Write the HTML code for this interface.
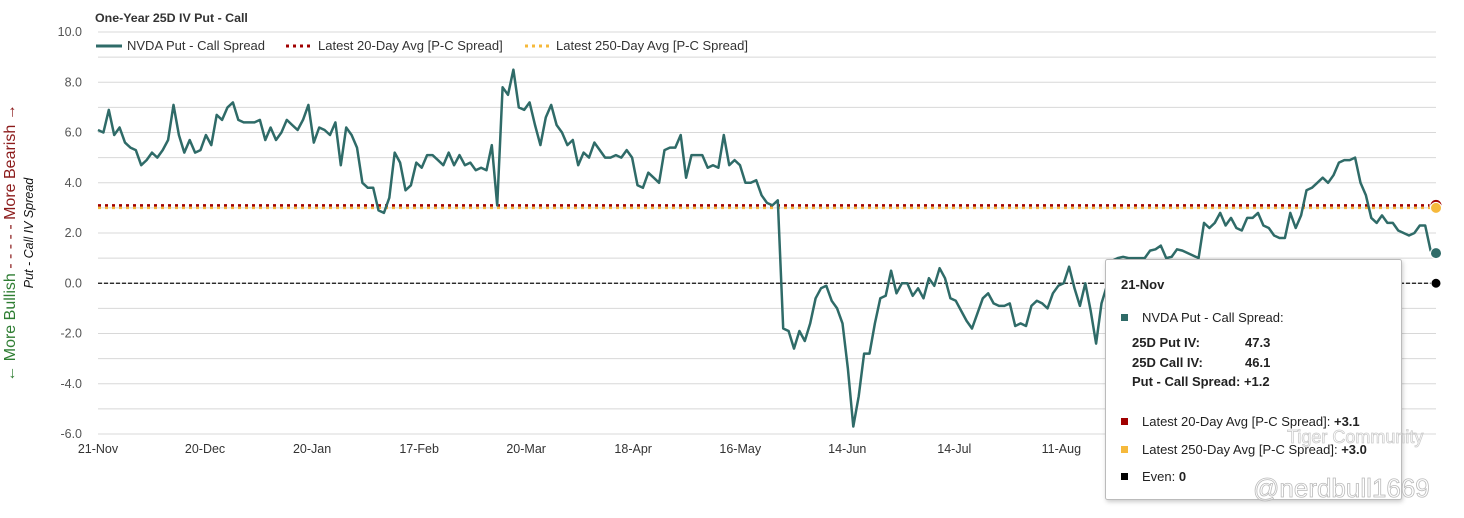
<!DOCTYPE html>
<html><head><meta charset="utf-8">
<style>
body{margin:0;background:#fff;}
svg{display:block;font-family:"Liberation Sans",Arial,sans-serif;}
</style></head>
<body>
<svg id="chart" width="1464" height="518" viewBox="0 0 1464 518">
<text x="95" y="22" font-size="12.4" font-weight="bold" fill="#333">One-Year 25D IV Put - Call</text>
<g>
<g><line x1="96" y1="46" x2="122" y2="46" stroke="#2f6b68" stroke-width="3"/><text x="127" y="50" font-size="13" fill="#333">NVDA Put - Call Spread</text></g>
<g><line x1="286" y1="46" x2="312" y2="46" stroke="#a00000" stroke-width="3" stroke-dasharray="3,4"/><text x="318" y="50" font-size="13" fill="#333">Latest 20-Day Avg [P-C Spread]</text></g>
<g><line x1="525" y1="46" x2="551" y2="46" stroke="#f6b93b" stroke-width="3" stroke-dasharray="3,4"/><text x="556" y="50" font-size="13" fill="#333">Latest 250-Day Avg [P-C Spread]</text></g>
</g>
<g id="grid"></g>
<g id="yaxis"></g>
<g id="xaxis"></g>
<text transform="translate(15,243) rotate(-90)" text-anchor="middle" font-size="16"><tspan fill="#2e7d32">← More Bullish</tspan><tspan fill="#8b1a1a"> - - - - - More Bearish →</tspan></text>
<text transform="translate(33,233) rotate(-90)" text-anchor="middle" font-size="12.5" font-style="italic" fill="#111">Put - Call IV Spread</text>
<g id="series"></g>
<g>
<rect x="1105.5" y="259.5" width="296" height="240" fill="#fff" stroke="#bbb" rx="2" filter="drop-shadow(1px 2px 2px rgba(0,0,0,0.2))"/>
<text x="1121" y="289" font-size="13" font-weight="bold" fill="#222">21-Nov</text>
<rect x="1121" y="314" width="7" height="7" fill="#2f6b68"/><text x="1142" y="322" font-size="13" fill="#222">NVDA Put - Call Spread:</text>
<text x="1132" y="347" font-size="13" font-weight="bold" fill="#222">25D Put IV:</text><text x="1245" y="347" font-size="13" font-weight="bold" fill="#222">47.3</text>
<text x="1132" y="367" font-size="13" font-weight="bold" fill="#222">25D Call IV:</text><text x="1245" y="367" font-size="13" font-weight="bold" fill="#222">46.1</text>
<text x="1132" y="386" font-size="13" font-weight="bold" fill="#222">Put - Call Spread: +1.2</text>
<rect x="1121" y="418" width="7" height="7" fill="#a00000"/><text x="1142" y="426" font-size="13" fill="#222">Latest 20-Day Avg [P-C Spread]: <tspan font-weight="bold">+3.1</tspan></text>
<rect x="1121" y="446" width="7" height="7" fill="#f6b93b"/><text x="1142" y="454" font-size="13" fill="#222">Latest 250-Day Avg [P-C Spread]: <tspan font-weight="bold">+3.0</tspan></text>
<rect x="1121" y="473" width="7" height="7" fill="#000"/><text x="1142" y="481" font-size="13" fill="#222">Even: <tspan font-weight="bold">0</tspan></text>
</g>
<text x="1253" y="497" font-size="26" fill="rgba(255,255,255,0.5)" stroke="#bbb" stroke-width="0.8">@nerdbull1669</text>
<text x="1287" y="443" font-size="18" fill="none" stroke="#ccc" stroke-width="0.8">Tiger Community</text>
</svg>
<script>
const yTicks = [-6, -4, -2, 0, 2, 4, 6, 8, 10];
const xTickLabels = ["21-Nov","20-Dec","20-Jan","17-Feb","20-Mar","18-Apr","16-May","14-Jun","14-Jul","11-Aug"];
const xTickIndex = [0, 20, 40, 60, 80, 100, 120, 140, 160, 180];
const spread = [6.1,6.0,6.9,5.9,6.2,5.6,5.4,5.3,4.7,4.9,5.2,5.0,5.3,5.7,7.1,5.9,5.2,5.7,5.2,5.3,5.9,5.5,6.7,6.5,7.0,7.2,6.5,6.4,6.4,6.4,6.5,5.7,6.2,5.7,6.0,6.5,6.3,6.1,6.5,7.1,5.6,6.2,6.1,5.9,6.4,4.7,6.2,5.9,5.4,4.0,3.8,3.8,2.9,2.8,3.4,5.2,4.8,3.7,3.9,4.8,4.6,5.1,5.1,4.9,4.7,5.2,4.7,5.1,4.7,4.8,4.5,4.6,4.5,5.5,3.1,7.8,7.5,8.5,7.0,6.9,7.2,6.3,5.5,6.6,7.1,6.3,6.0,5.5,5.7,4.7,5.2,5.0,5.6,5.3,5.0,5.0,5.1,5.0,5.3,5.0,3.9,3.8,4.4,4.2,4.0,5.3,5.4,5.4,5.9,4.2,5.1,5.1,5.1,4.6,4.7,4.6,5.9,4.7,4.9,4.7,4.0,4.0,4.1,3.5,3.2,3.1,3.3,
-1.8,-1.9,-2.6,-1.9,-2.3,-1.6,-0.6,-0.2,-0.1,-0.7,-1.0,-1.6,-3.4,-5.7,-4.5,-2.8,-2.8,-1.6,-0.6,-0.5,0.5,-0.4,0.0,0.0,-0.5,-0.2,-0.6,0.2,-0.1,0.6,0.2,-0.6,-0.7,-1.1,-1.5,-1.8,-1.2,-0.6,-0.4,-0.8,-0.9,-0.9,-0.8,-1.7,-1.6,-1.7,-0.9,-0.7,-0.8,-1.0,-0.4,-0.1,0.0,
0.66,-0.2,-0.9,0.0,-1.1,-2.4,-0.8,-0.1,0.9,1.0,1.05,1.0,1.0,1.0,1.0,1.3,1.35,1.5,1.0,1.05,1.35,1.3,1.2,1.1,1.0,2.4,2.2,2.4,2.8,2.3,2.6,2.2,2.1,2.6,2.6,2.8,2.3,2.2,1.9,1.8,1.8,2.8,2.2,2.7,3.7,3.8,4.0,4.2,4.0,4.3,4.8,4.9,4.9,5.0,4.0,3.5,2.6,2.4,2.7,2.4,2.4,2.1,2.0,1.9,2.0,2.3,2.3,1.3,1.2];
const avg20 = [3.1];
const avg250 = [3.0];
const even = [0];

const NS = "http://www.w3.org/2000/svg";
const X0 = 98, X1 = 1436, Y0 = 434, Y1 = 32, VMIN = -6, VMAX = 10;
const step = (X1 - X0) / 250;
function xScale(i){ return X0 + i * step; }
function yScale(v){ return Y0 - (v - VMIN) / (VMAX - VMIN) * (Y0 - Y1); }
function mk(tag, attrs, parent){ const e = document.createElementNS(NS, tag); for (const k in attrs) e.setAttribute(k, attrs[k]); parent.appendChild(e); return e; }

const grid = document.getElementById('grid');
for (let v = VMIN; v <= VMAX; v++) {
  const l = mk('line', {x1: X0, x2: X1, y1: yScale(v), y2: yScale(v), stroke: '#d8d8d8', 'stroke-width': 1}, grid);
  
  
}
const yaxis = document.getElementById('yaxis');
yTicks.forEach(v => {
  const t = mk('text', {x: 82, y: yScale(v) + 4, 'text-anchor': 'end', 'font-size': 12.5, fill: '#555'}, yaxis);
  t.textContent = v.toFixed(1);
  
  
});
const xaxis = document.getElementById('xaxis');
xTickLabels.forEach((lab, k) => {
  const t = mk('text', {x: xScale(xTickIndex[k]), y: 453, 'text-anchor': 'middle', 'font-size': 12.5, fill: '#333'}, xaxis);
  t.textContent = lab;
  
  
});

const series = document.getElementById('series');
function hline(v, color, dash, w, name){
  const l = mk('line', {x1: X0, x2: X1, y1: yScale(v), y2: yScale(v), stroke: color, 'stroke-width': w, 'stroke-dasharray': dash}, series);
  
  
}
hline(even[0], '#111', '4,2', 1.3, 'even-line');
hline(avg250[0], '#f6b93b', '3,4', 2.5, 'avg250-line');
hline(avg20[0], '#a00000', '3,4', 2.5, 'avg20-line');

const sstep = (X1 - X0) / (spread.length - 1);
const pts = spread.map((v, i) => (X0 + i * sstep).toFixed(1) + ',' + yScale(v).toFixed(1)).join(' ');
const pl = mk('polyline', {points: pts, fill: 'none', stroke: '#2f6b68', 'stroke-width': 2.5, 'stroke-linejoin': 'round'}, series);



function marker(v, color, r, name){
  const c = mk('circle', {cx: X1, cy: yScale(v), r: r, fill: color, stroke: '#fff', 'stroke-width': 1}, series);
  
  
}
marker(avg20[0], '#a00000', 6, 'avg20-marker');
marker(avg250[0], '#f6b93b', 5.5, 'avg250-marker');
marker(spread[spread.length - 1], '#2f6b68', 5.5, 'nvda-last-marker');
marker(even[0], '#000', 5, 'even-marker');
</script>
</body></html>
